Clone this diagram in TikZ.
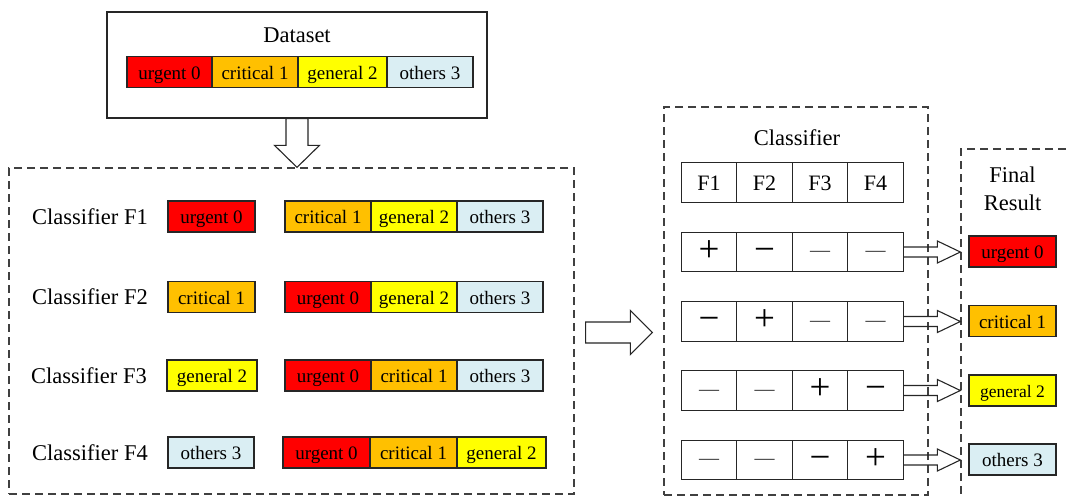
\documentclass[tikz,border=0pt]{standalone}
\usepackage{fontspec}
\setmainfont{Liberation Serif}
\usetikzlibrary{calc}
\definecolor{urg}{HTML}{FF0000}
\definecolor{cri}{HTML}{FFC000}
\definecolor{gen}{HTML}{FFFF00}
\definecolor{oth}{HTML}{DAEEF3}
\definecolor{edge}{HTML}{262626}

\begin{document}
\begin{tikzpicture}[x=1pt,y=-1pt,
  catbox/.style={draw=edge, line width=1.1pt, inner sep=0pt, minimum height=31pt,
    font=\fontsize{19}{22}\selectfont, text height=14.5pt, text depth=0pt},
  urgent/.style={catbox, fill=urg, minimum width=#1},
  critical/.style={catbox, fill=cri, minimum width=#1},
  general/.style={catbox, fill=gen, minimum width=#1},
  others/.style={catbox, fill=oth, minimum width=#1},
  caption/.style={font=\fontsize{22.5}{27}\selectfont, inner sep=0pt, text height=15pt, text depth=0pt},
  dashframe/.style={draw=black!75, line width=1.3pt, dash pattern=on 8pt off 5pt, inner sep=0pt},
  cell/.style={draw=edge, line width=1.1pt, minimum width=55.5pt, minimum height=39.5pt, inner sep=0pt},
  headcell/.style={cell, font=\fontsize{22}{26}\selectfont, text height=15pt, text depth=0pt},
  signplus/.style={cell, font=\fontsize{37}{40}\selectfont, text height=18.7pt, text depth=0pt},
  signminus/.style={cell, font=\fontsize{37}{40}\selectfont, text height=18.7pt, text depth=0pt},
  signdash/.style={cell, font=\fontsize{20}{22}\selectfont, text=black!80, text height=9pt, text depth=0pt},
  hollow/.style={draw=edge, line width=1.1pt, fill=white, line join=miter}
]
\useasboundingbox (0,0) rectangle (1067,498);

% ---- dataset ----
\node[draw=edge, line width=1.2pt, minimum width=380pt, minimum height=106pt, inner sep=0pt] (dataset) at (297,65) {};
\node[caption] (dstitle) at (297,34.5) {Dataset};
\node[urgent=85]   (d0) at (169.5,72) {urgent 0};
\node[critical=86] (d1) at (255,72)   {critical 1};
\node[general=89]  (d2) at (342.5,72) {general 2};
\node[others=86]   (d3) at (430,72)   {others 3};

% ---- one-vs-rest classifiers ----
\node[dashframe, minimum width=565pt, minimum height=326pt] (leftbox) at (291.5,331) {};

\node[caption, anchor=west] (c1) at (32,216.5) {Classifier F1};
\node[urgent=87]   (c1a) at (211.5,216.5) {urgent 0};
\node[critical=86] (c1b) at (328,216.5) {critical 1};
\node[general=86]  (c1c) at (414,216.5) {general 2};
\node[others=86]   (c1d) at (500,216.5) {others 3};

\node[caption, anchor=west] (c2) at (32,297) {Classifier F2};
\node[critical=87] (c2a) at (211.5,297) {critical 1};
\node[urgent=86]   (c2b) at (328,297) {urgent 0};
\node[general=86]  (c2c) at (414,297) {general 2};
\node[others=86]   (c2d) at (500,297) {others 3};

\node[caption, anchor=west] (c3) at (31,375.5) {Classifier F3};
\node[general=90]  (c3a) at (212,375.5) {general 2};
\node[urgent=86]   (c3b) at (328,375.5) {urgent 0};
\node[critical=86] (c3c) at (414,375.5) {critical 1};
\node[others=86]   (c3d) at (500,375.5) {others 3};

\node[caption, anchor=west] (c4) at (32,452.5) {Classifier F4};
\node[others=86]   (c4a) at (211,452.5) {others 3};
\node[urgent=87]   (c4b) at (326.5,452.5) {urgent 0};
\node[critical=87] (c4c) at (413.5,452.5) {critical 1};
\node[general=89]  (c4d) at (501.5,452.5) {general 2};

% ---- combined classifier ----
\node[dashframe, minimum width=264pt, minimum height=388pt] (midbox) at (796,301) {};
\node[caption] (midtitle) at (797,137.5) {Classifier};

\node[headcell] (h1) at (709,182.5)   {F1};
\node[headcell] (h2) at (764.5,182.5) {F2};
\node[headcell] (h3) at (820,182.5)   {F3};
\node[headcell] (h4) at (875.5,182.5) {F4};

\node[signplus]  (r1c1) at (709,252)   {+};
\node[signminus] (r1c2) at (764.5,252) {−};
\node[signdash]  (r1c3) at (820,252)   {—};
\node[signdash]  (r1c4) at (875.5,252) {—};

\node[signminus] (r2c1) at (709,321.5)   {−};
\node[signplus]  (r2c2) at (764.5,321.5) {+};
\node[signdash]  (r2c3) at (820,321.5)   {—};
\node[signdash]  (r2c4) at (875.5,321.5) {—};

\node[signdash]  (r3c1) at (709,390.5)   {—};
\node[signdash]  (r3c2) at (764.5,390.5) {—};
\node[signplus]  (r3c3) at (820,390.5)   {+};
\node[signminus] (r3c4) at (875.5,390.5) {−};

\node[signdash]  (r4c1) at (709,460)   {—};
\node[signdash]  (r4c2) at (764.5,460) {—};
\node[signminus] (r4c3) at (820,460)   {−};
\node[signplus]  (r4c4) at (875.5,460) {+};

% ---- final result ----
\node[dashframe, minimum width=119pt, minimum height=361pt] (finalbox) at (1020.5,329.5) {};
\node[align=center, font=\fontsize{22.5}{28.5}\selectfont, inner sep=0pt] (finaltitle) at (1012.5,189) {Final\\Result};
\node[urgent=87]   (res1) at (1012.5,251.5) {urgent 0};
\node[critical=87] (res2) at (1012.5,321)   {critical 1};
\node[general=87, font=\fontsize{17.5}{20}\selectfont] (res3) at (1012.5,390.5) {general 2};
\node[others=87]   (res4) at (1012.5,459.5) {others 3};

% ---- block arrows ----
\coordinate (dtop) at (dataset.south);
\coordinate (dtip) at (dataset.south |- leftbox.north);
\draw[hollow] ($(dtop)+(-11,0)$) -- ($(dtip)+(-11,-22)$) -- ($(dtip)+(-22.5,-22)$) -- (dtip)
  -- ($(dtip)+(22.5,-22)$) -- ($(dtip)+(11,-22)$) -- ($(dtop)+(11,0)$) -- cycle;

\coordinate (ra) at ($(leftbox.east)+(11,1.5)$);
\coordinate (rb) at ($(leftbox.east -| midbox.west)+(-11,1.5)$);
\draw[hollow] ($(ra)+(0,-10.5)$) -- ($(rb)+(-22,-10.5)$) -- ($(rb)+(-22,-22)$) -- (rb)
  -- ($(rb)+(-22,22)$) -- ($(rb)+(-22,10.5)$) -- ($(ra)+(0,10.5)$) -- cycle;

\foreach \i in {1,...,4}{
  \coordinate (sa) at (r\i c4.east);
  \coordinate (sb) at (r\i c4.east -| finalbox.west);
  \draw[draw=edge, line width=1.1pt, line join=miter]
    ($(sa)+(0,-5)$) -- ($(sb)+(-23,-5)$) -- ($(sb)+(-23,-11)$) -- (sb)
    -- ($(sb)+(-23,11)$) -- ($(sb)+(-23,5)$) -- ($(sa)+(0,5)$);
}
\end{tikzpicture}
\end{document}
